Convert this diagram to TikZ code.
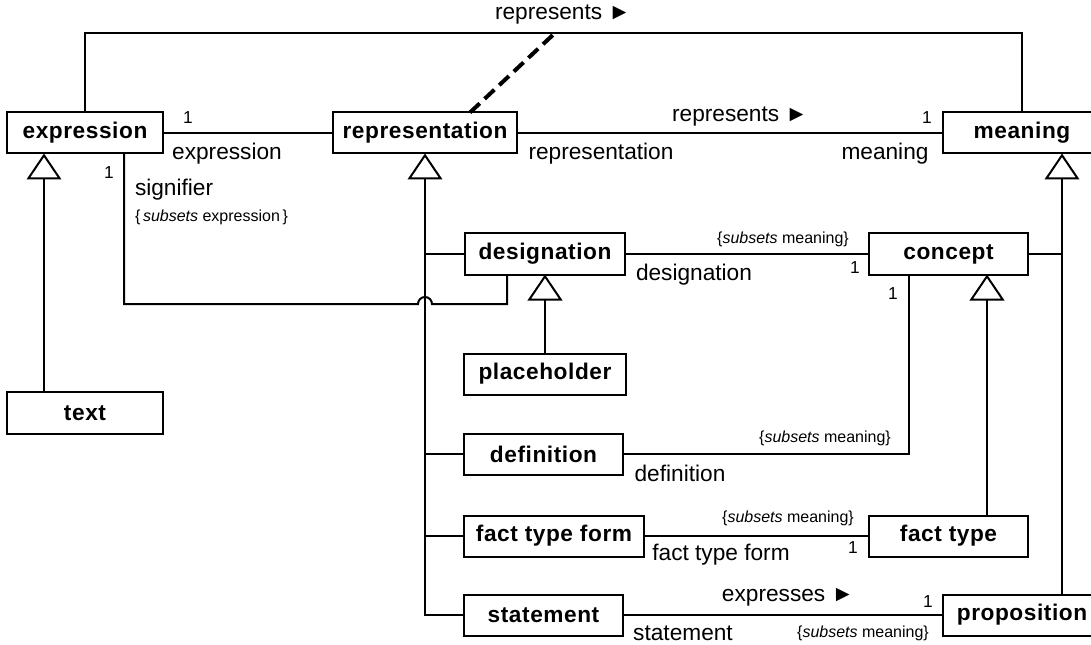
\documentclass[tikz,border=0pt]{standalone}
\usepackage{fontspec}
\setmainfont{Liberation Sans}
\usetikzlibrary{arrows.meta, calc}

\begin{document}
\begin{tikzpicture}[x=0.75pt, y=-0.75pt, line width=1.5pt,
            cls/.style={draw, fill=white, inner sep=0pt, outer sep=0pt, minimum height=30.75pt, font=\fontsize{17}{19}\selectfont\bfseries\addfontfeature{LetterSpace=2.5}},
            role/.style={inner sep=0pt, font=\fontsize{17}{19}\selectfont},
            mult/.style={inner sep=0pt, font=\fontsize{13}{15}\selectfont},
            cons/.style={inner sep=0pt, font=\fontsize{12}{14}\selectfont},
            gen/.style={-{Triangle[open, length=19.5pt, width=26pt]}},
            dep/.style={line width=3pt, dash pattern=on 10pt off 5pt}]

            \useasboundingbox (0,0) rectangle (1091,645);

            % Classes
            \node[cls, minimum width=117pt] (expr) at (85,133) {expression};
            \node[cls, minimum width=138pt] (repr) at (425,133) {representation};
            \node[cls, minimum width=118.5pt] (mean) at (1022,133) {meaning};
            \node[cls, minimum width=120pt] (desig) at (545,254) {designation};
            \node[cls, minimum width=119pt] (concept) at (948.5,254) {concept};
            \node[cls, minimum width=121.5pt] (holder) at (545,374) {placeholder};
            \node[cls, minimum width=117pt, minimum height=31.5pt] (textcls) at (85,413) {text};
            \node[cls, minimum width=119pt] (defn) at (543.5,454) {definition};
            \node[cls, minimum width=135pt] (ftform) at (554,536) {fact type form};
            \node[cls, minimum width=119pt] (ftype) at (948.5,536) {fact type};
            \node[cls, minimum width=119pt] (stmt) at (543.5,615) {statement};
            \node[cls, minimum width=118.5pt] (prop) at (1022,615) {proposition};

            % Helper points
            \coordinate (hook) at (555,33);
            \coordinate (low) at (0,304);
            \coordinate (jump) at (repr.south |- low);
            \coordinate (mtop) at ($(mean.south)+(40,0)$);

            % expression -- representation -- meaning
            \draw (expr) -- (repr);
            \draw (repr) -- (mean);
            \draw (expr.north) -- ++(0,-79) -| (mean.north);
            \draw[dep] ($(repr.north)+(45,0)$) -- (hook);
            \node[role] (toprep) at (563,15) {represents ►};
            \node[mult] at (188,118) {1};
            \node[role] at (227,154) {expression};
            \node[role] at (740,117) {represents ►};
            \node[role] at (601,154) {representation};
            \node[mult] at (927,118) {1};
            \node[role] at (885,154) {meaning};

            % signifier
            \draw ($(expr.south)+(39,0)$) |- ($(jump)+(-7,0)$) arc[start angle=180, end angle=0, radius=5.25pt] -| ($(desig.south)+(-38,0)$);
            \node[mult] at (109,173) {1};
            \node[role, anchor=west] at (134,190) {signifier};
            \node[cons, anchor=west] at (134,217) {\{\,\textit{subsets} expression\,\}};

            % Generalizations
            \draw[gen] ($(textcls.north)+(-41,0)$) -- ($(expr.south)+(-41,0)$);
            \draw[gen] (stmt.west) -| (repr.south);
            \foreach \n in {desig, defn, ftform}
                \draw (\n.west) -- (\n.west -| repr.south);
            \draw[gen] (holder.north) -- (desig.south);
            \draw[gen] ($(prop.north)+(40,0)$) -- (mtop);
            \draw (concept.east) -- (concept.east -| mtop);
            \draw[gen] ($(ftype.north)+(38.5,0)$) -- ($(concept.south)+(38.5,0)$);

            % designation -- concept
            \draw (desig) -- (concept);
            \node[cons] at (783,239) {\{\textit{subsets} meaning\}};
            \node[role] at (694,275) {designation};
            \node[mult] at (855,268) {1};

            % definition -- concept
            \draw (defn.east) -| ($(concept.south)+(-39.5,0)$);
            \node[cons] at (825,438) {\{\textit{subsets} meaning\}};
            \node[role] at (680,473) {definition};
            \node[mult] at (893,294) {1};

            % fact type form -- fact type
            \draw (ftform) -- (ftype);
            \node[cons] at (788,518) {\{\textit{subsets} meaning\}};
            \node[role] at (721,555) {fact type form};
            \node[mult] at (853,548) {1};

            % statement -- proposition
            \draw (stmt) -- (prop);
            \node[role] at (788,597) {expresses ►};
            \node[role] at (683,633) {statement};
            \node[cons] at (863,633) {\{\textit{subsets} meaning\}};
            \node[mult] at (928,602) {1};
        \end{tikzpicture}
\end{document}
